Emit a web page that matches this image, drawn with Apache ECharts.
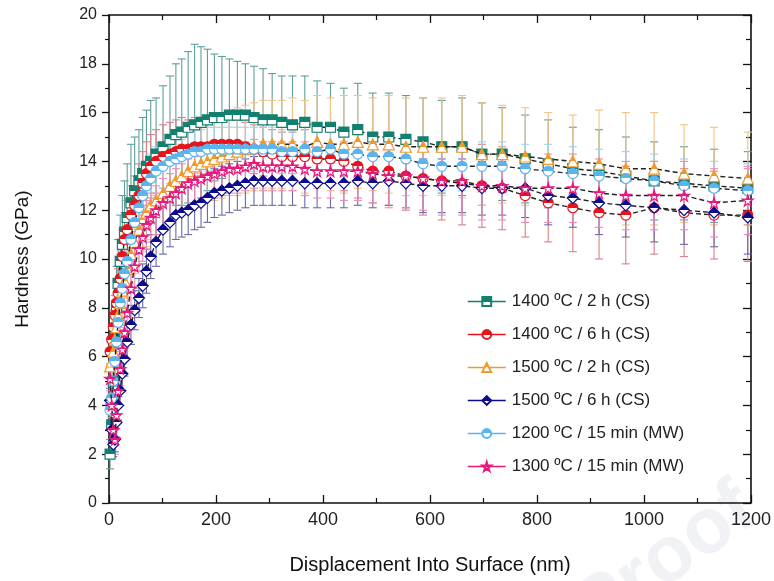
<!DOCTYPE html>
<html>
<head>
<meta charset="utf-8">
<script src="https://cdn.jsdelivr.net/npm/echarts@6/dist/echarts.min.js"></script>
<style>html,body{margin:0;padding:0;background:#fff;}#c{width:774px;height:581px;}</style>
</head>
<body>
<div id="c"></div>
<script>
// ---------- DATA ----------
const xs = [2,5,8,11,14,17,21,25,29,34,41,48,56,63,70,78,88,101,114,125,136,148,160,172,184,197,211,225,240,255,271,288,305,323,343,366,389,414,439,465,493,523,555,587,622,660,697,735,778,821,867,916,966,1019,1075,1131,1194];

const names = ['1400 ºC / 2 h (CS)','1400 ºC / 6 h (CS)','1500 ºC / 2 h (CS)','1500 ºC / 6 h (CS)','1200 ºC / 15 min (MW)','1300 ºC / 15 min (MW)'];

const teal_y = [2.0,3.2,5.0,6.8,8.0,9.0,9.9,10.6,11.1,11.7,12.3,12.8,13.2,13.5,13.8,14.0,14.3,14.6,14.9,15.1,15.2,15.4,15.5,15.6,15.7,15.8,15.8,15.9,15.9,15.9,15.8,15.7,15.7,15.6,15.5,15.6,15.4,15.4,15.2,15.3,15.0,15.0,14.9,14.8,14.6,14.6,14.3,14.3,14.1,13.9,13.7,13.6,13.4,13.2,13.1,13.0,12.9];
const teal_err = [0.6,0.8,1.2,1.5,1.7,1.8,1.9,2.0,2.1,2.2,2.4,2.2,2.1,2.3,2.3,2.5,2.3,2.5,2.6,2.9,3.0,3.1,3.3,3.1,2.9,2.6,2.5,2.3,2.2,2.1,2.1,2.1,1.9,1.9,2.0,1.9,1.9,1.8,1.8,1.9,1.8,1.8,1.8,1.8,1.9,2.0,2.1,1.9,1.8,1.8,1.7,1.7,1.6,1.6,1.5,1.5,1.5];

const red_y = [6.2,6.7,7.2,7.7,8.2,8.6,9.2,10.1,10.8,11.2,11.8,12.2,12.6,13.1,13.5,13.8,14.0,14.2,14.3,14.4,14.5,14.5,14.6,14.6,14.6,14.7,14.7,14.7,14.7,14.6,14.5,14.4,14.3,14.2,14.2,14.2,14.1,14.1,14.0,13.8,13.6,13.6,13.4,13.3,13.2,13.1,13.0,12.9,12.6,12.3,12.1,11.9,11.8,12.1,11.9,11.8,11.8];
const red_err = [0.5,0.6,0.7,0.8,0.9,1.0,1.0,1.1,1.1,1.2,1.2,1.2,1.3,1.3,1.3,1.3,1.3,1.3,1.3,1.3,1.3,1.2,1.2,1.2,1.1,1.1,1.1,1.1,1.0,1.0,1.0,1.0,1.0,1.0,1.0,1.1,1.1,1.1,1.2,1.3,1.3,1.4,1.4,1.5,1.6,1.7,1.7,1.7,1.7,1.6,1.8,1.9,2.0,1.9,1.8,1.8,1.9];

const orange_y = [5.6,5.8,6.2,6.7,7.2,7.7,8.2,8.7,9.1,9.6,10.2,10.7,11.2,11.6,11.9,12.2,12.4,12.7,13.0,13.2,13.4,13.6,13.8,13.9,14.0,14.1,14.2,14.3,14.4,14.5,14.6,14.7,14.7,14.7,14.7,14.6,14.8,14.7,14.7,14.8,14.7,14.7,14.6,14.6,14.6,14.6,14.3,14.3,14.2,14.1,14.0,13.9,13.7,13.7,13.5,13.4,13.3];
const orange_err = [0.5,0.6,0.7,0.8,0.9,1.0,1.0,1.1,1.1,1.2,1.2,1.3,1.3,1.3,1.4,1.4,1.4,1.5,1.5,1.5,1.5,1.6,1.6,1.6,1.6,1.7,1.7,1.7,1.8,1.8,1.8,1.8,1.8,1.8,1.9,1.9,1.9,1.9,2.0,1.9,1.9,2.0,2.0,2.0,2.0,2.1,2.1,2.0,2.0,1.9,1.9,2.2,2.3,2.3,2.0,2.0,1.9];

const navy_y = [4.2,3.0,2.4,2.6,3.3,4.0,4.6,5.3,5.9,6.6,7.3,7.9,8.4,8.9,9.5,10.1,10.7,11.2,11.5,11.8,11.9,12.0,12.2,12.3,12.5,12.7,12.8,12.9,13.0,13.1,13.2,13.2,13.2,13.2,13.2,13.1,13.1,13.1,13.1,13.2,13.1,13.2,13.1,13.0,13.0,13.0,12.9,12.9,12.9,12.6,12.5,12.3,12.2,12.1,12.0,11.9,11.7];
const navy_err = [0.5,0.5,0.5,0.5,0.6,0.6,0.6,0.7,0.7,0.7,0.8,0.8,0.8,0.9,0.9,0.9,1.0,1.0,1.0,1.0,1.0,1.0,1.0,1.0,1.0,1.0,1.0,1.0,1.0,1.0,1.0,1.0,1.0,1.0,1.0,1.0,1.0,1.0,1.0,1.0,1.0,1.0,1.0,1.1,1.1,1.1,1.1,1.1,1.2,1.2,1.2,1.3,1.3,1.4,1.4,1.4,1.5];

const blue_y = [3.8,4.3,5.0,5.8,6.6,7.4,8.2,8.8,9.4,9.9,10.8,11.5,12.1,12.6,13.0,13.3,13.6,13.8,14.0,14.1,14.2,14.3,14.4,14.4,14.5,14.5,14.5,14.5,14.5,14.5,14.5,14.5,14.5,14.4,14.4,14.5,14.4,14.5,14.3,14.3,14.2,14.2,14.1,13.9,13.8,13.8,13.8,13.8,13.7,13.6,13.5,13.4,13.3,13.2,13.0,12.9,12.8];
const blue_err = [0.4,0.5,0.6,0.7,0.8,0.8,0.9,0.9,0.9,1.0,1.0,1.0,1.0,1.0,1.0,1.0,1.0,0.9,0.9,0.9,0.9,0.9,0.9,0.9,0.9,0.9,0.9,0.9,0.9,0.9,0.9,0.9,0.9,0.9,0.9,0.9,0.9,0.9,0.9,0.9,0.9,1.0,1.0,1.0,1.0,1.0,1.0,1.0,1.0,1.1,1.1,1.1,1.1,1.1,1.1,1.1,1.1];

const pink_y = [5.1,4.0,3.0,2.6,3.6,4.6,5.5,6.3,7.0,7.8,8.8,9.7,10.4,10.9,11.4,11.7,12.0,12.3,12.5,12.7,12.9,13.1,13.2,13.3,13.4,13.5,13.6,13.7,13.7,13.8,13.9,13.8,13.8,13.8,13.8,13.7,13.6,13.6,13.6,13.6,13.5,13.4,13.4,13.3,13.2,13.2,13.0,13.0,12.9,12.9,12.9,12.7,12.6,12.6,12.6,12.3,12.4];
const pink_err = [0.5,0.5,0.5,0.6,0.6,0.7,0.7,0.8,0.8,0.8,0.9,0.9,0.9,1.0,1.0,1.0,1.0,1.0,1.0,1.0,1.0,1.0,1.0,1.0,1.0,1.0,1.0,1.0,1.0,1.0,1.0,1.0,1.0,1.0,1.0,1.1,1.1,1.1,1.2,1.2,1.2,1.3,1.3,1.3,1.4,1.4,1.4,1.4,1.4,1.4,1.4,1.4,1.4,1.4,1.4,1.4,1.4];

const xTicks = [0,200,400,600,800,1000,1200];
const yTicks = [0,2,4,6,8,10,12,14,16,18,20];

// ---------- STYLE ----------
const seriesY = [teal_y, red_y, orange_y, navy_y, blue_y, pink_y];
const seriesE = [teal_err, red_err, orange_err, navy_err, blue_err, pink_err];
const colors = ['#12806e','#e8141c','#ef9a2a','#0b0b8c','#5ab4ee','#e8197c'];
const barColors = ['#5e9f9a','#d98088','#f2c283','#6a6aa8','#9fd0f2','#e98cb6'];
const STAR = 'path://M50,0 L61,35 L98,35 L68,57 L79,91 L50,70 L21,91 L32,57 L2,35 L39,35 Z';
const symbols = ['rect','circle','triangle','diamond','circle', STAR];
const sizes = [10,10,11,11,10,11];

function halfFill(c){
  return {type:'linear',x:0,y:0,x2:0,y2:1,colorStops:[
    {offset:0,color:c},{offset:0.5,color:c},{offset:0.5,color:'#ffffff'},{offset:1,color:'#ffffff'}]};
}

const FONT = '"Liberation Sans", Arial, sans-serif';
const series = [];
// error bars
seriesY.forEach((ys, si) => {
  const es = seriesE[si];
  series.push({
    type:'custom', silent:true, z:1,
    data: xs.map((x,i)=>[x, ys[i]-es[i], ys[i]+es[i]]),
    renderItem: function(params, api){
      const x = api.value(0), lo = api.value(1), hi = api.value(2);
      const p1 = api.coord([x, lo]), p2 = api.coord([x, hi]);
      const w = 4;
      const st = {stroke: barColors[si], lineWidth: 1.1};
      return {type:'group', children:[
        {type:'line', shape:{x1:p1[0],y1:p1[1],x2:p2[0],y2:p2[1]}, style:st},
        {type:'line', shape:{x1:p1[0]-w,y1:p1[1],x2:p1[0]+w,y2:p1[1]}, style:st},
        {type:'line', shape:{x1:p2[0]-w,y1:p2[1],x2:p2[0]+w,y2:p2[1]}, style:st}
      ]};
    }
  });
});
// lines + markers
seriesY.forEach((ys, si) => {
  series.push({
    name: names[si], type:'line', z: 3 + si,
    data: xs.map((x,i)=>[x, ys[i]]),
    symbol: symbols[si], symbolSize: sizes[si], showAllSymbol:true,
    lineStyle:{color:'#222', width:1.4, type:[5,3]},
    itemStyle:{color: halfFill(colors[si]), borderColor: colors[si], borderWidth:1.2},
    emphasis:{disabled:true},
    animation:false
  });
});

const chart = echarts.init(document.getElementById('c'), null, {renderer:'canvas'});
const axisLineStyle = {color:'#111', width:1.6};
chart.setOption({
  backgroundColor:'#ffffff',
  animation:false,
  textStyle:{fontFamily:FONT},
  grid:{left:109, right:23, top:15, bottom:78},
  graphic:[{
    type:'text', left:560, top:470, z:-10, rotation:0.62,
    style:{text:'Proof', fill:'#f1f2f6', font:'bold 78px ' + FONT}
  }],
  legend:{
    left:462, top:288, orient:'vertical', itemWidth:38, itemHeight:11, itemGap:16,
    textStyle:{fontSize:17, color:'#222', fontFamily:FONT, padding:[0,0,0,1]},
    data: names.map((n,i)=>({name:n, lineStyle:{color:colors[i], type:'solid', width:1.5}}))
  },
  xAxis:[{
    type:'value', min:0, max:1200, interval:200, position:'bottom',
    name:'Displacement Into Surface (nm)', nameLocation:'middle', nameGap:52,
    nameTextStyle:{fontSize:20, color:'#111', fontFamily:FONT},
    axisLine:{show:true, onZero:false, lineStyle:axisLineStyle},
    axisTick:{show:true, inside:true, length:8, lineStyle:{color:'#111', width:1.3}},
    minorTick:{show:true, splitNumber:2, length:5, lineStyle:{color:'#111', width:1.2}},
    axisLabel:{fontSize:18, color:'#222', margin:8, fontFamily:FONT, formatter: v => String(v)},
    splitLine:{show:false}
  },{
    type:'value', min:0, max:1200, interval:200, position:'top',
    axisLine:{show:true, onZero:false, lineStyle:axisLineStyle},
    axisTick:{show:true, inside:true, length:8, lineStyle:{color:'#111', width:1.3}},
    minorTick:{show:true, splitNumber:2, length:5, lineStyle:{color:'#111', width:1.2}},
    axisLabel:{show:false}, splitLine:{show:false}
  }],
  yAxis:[{
    type:'value', min:0, max:20, interval:2, position:'left',
    name:'Hardness (GPa)', nameLocation:'middle', nameGap:77,
    nameTextStyle:{fontSize:19, color:'#111', fontFamily:FONT},
    axisLine:{show:true, onZero:false, lineStyle:axisLineStyle},
    axisTick:{show:true, inside:false, length:7, lineStyle:{color:'#111', width:1.3}},
    minorTick:{show:true, splitNumber:2, length:4, lineStyle:{color:'#111', width:1.2}},
    axisLabel:{fontSize:16, color:'#222', margin:12, fontFamily:FONT},
    splitLine:{show:false}
  },{
    type:'value', min:0, max:20, interval:2, position:'right',
    axisLine:{show:true, onZero:false, lineStyle:axisLineStyle},
    axisTick:{show:true, inside:true, length:8, lineStyle:{color:'#111', width:1.3}},
    minorTick:{show:true, splitNumber:2, length:5, lineStyle:{color:'#111', width:1.2}},
    axisLabel:{show:false}, splitLine:{show:false}
  }],
  series: series
});
</script>
</body>
</html>
